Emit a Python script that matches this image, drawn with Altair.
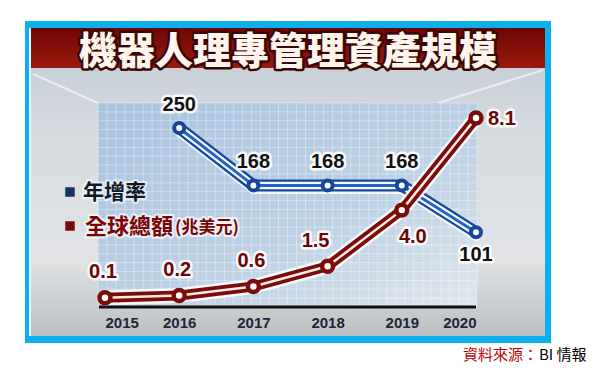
import altair as alt
import pandas as pd

# ---------------- data ----------------
years = [2015, 2016, 2017, 2018, 2019, 2020]
growth_years = [2016, 2017, 2018, 2019, 2020]
growth = [250, 168, 168, 168, 101]
growth_labels = ["250", "168", "168", "168", "101"]
total = [0.1, 0.2, 0.6, 1.5, 4.0, 8.1]
total_labels = ["0.1", "0.2", "0.6", "1.5", "4.0", "8.1"]

title_text = "機器人理專管理資產規模"
legend_growth = "年增率"
legend_total = "全球總額"
legend_unit = "(兆美元)"
source_red = "資料來源："
source_black = "BI 情報"

blue_df = pd.DataFrame({"year": growth_years, "value": growth, "label": growth_labels})
red_df = pd.DataFrame({"year": years, "value": total, "label": total_labels})
one = pd.DataFrame({"k": [0]})

CJK = "Noto Sans CJK TC"
NUM = "Liberation Sans"

# ---------------- scales ----------------
xs = alt.Scale(domain=[2015, 2020], range=[97, 468])
blue_y = alt.Scale(domain=[0, 250], range=[295, 120])
blue_y_sh = alt.Scale(domain=[0, 250], range=[298, 123])
red_y = alt.Scale(domain=[0, 8.1], range=[292, 110])


def box(x, y, x2, y2, **kw):
    return alt.Chart(one).mark_rect(**kw).encode(
        x=alt.value(x), y=alt.value(y), x2=alt.value(x2), y2=alt.value(y2))


def txt(x, y, text, **kw):
    return alt.Chart(one).mark_text(text=text, **kw).encode(x=alt.value(x), y=alt.value(y))


def grad(stops, x1=0, y1=0, x2=0, y2=1):
    return alt.Gradient(gradient="linear", x1=x1, y1=y1, x2=x2, y2=y2,
                        stops=[alt.GradientStop(offset=o, color=c) for o, c in stops])


# ---------------- decoration ----------------
frame = box(17, 13, 543, 335, color="#0cb0ec")
edge = box(21, 20, 23, 328, color="#e6f4fb")
bg = box(23, 20, 537, 328, fill=grad([(0, "#c2c9d2"), (0.35, "#d7dce1"),
                                        (0.75, "#e1e3e5"), (1, "#bcbfc2")]))
streak1 = alt.Chart(one).mark_rule(color="white", strokeWidth=2, opacity=0.6).encode(
    x=alt.value(25), y=alt.value(66), x2=alt.value(90), y2=alt.value(95))
streak2 = alt.Chart(one).mark_rule(color="white", strokeWidth=2, opacity=0.6).encode(
    x=alt.value(430), y=alt.value(95), x2=alt.value(535), y2=alt.value(62))
bar = box(23, 20, 537, 60, fill=grad([(0, "#6e0703"), (1, "#9a1a0e")]))
title_sh = txt(280, 45, title_text, font=CJK, fontSize=38, fontWeight=900,
               fill="#3a0602", stroke="#3a0602", strokeWidth=5, strokeJoin="round",
               align="center", baseline="middle")
title = txt(280, 45, title_text, font=CJK, fontSize=38, fontWeight=900,
            fill="#fff4ee", align="center", baseline="middle")

grid_bg = box(90, 95, 469, 299, fill=grad([(0, "#a8c3df"), (0.6, "#bfd2e5"), (1, "#dfe6ec")],
                                          x1=0, y1=0, x2=1, y2=1))
grid_v = alt.Chart(alt.sequence(0, 43, as_="i")).mark_rule(
    color="white", opacity=0.35, strokeWidth=1).encode(
    x=alt.X("i:Q", scale=alt.Scale(domain=[0, 42], range=[90, 469]), axis=None),
    y=alt.value(95), y2=alt.value(299))
grid_h = alt.Chart(alt.sequence(0, 24, as_="i")).mark_rule(
    color="white", opacity=0.35, strokeWidth=1).encode(
    y=alt.Y("i:Q", scale=alt.Scale(domain=[0, 23], range=[299, 95]), axis=None),
    x=alt.value(90), x2=alt.value(469))
baseline = alt.Chart(one).mark_rule(color="#111111", strokeWidth=3).encode(
    x=alt.value(91), x2=alt.value(468), y=alt.value(299))

# ---------------- year axis ----------------
year_axis = alt.Chart(red_df).mark_point(opacity=0).encode(
    x=alt.X("year:Q", scale=xs, title=None,
            axis=alt.Axis(values=years, format="d", ticks=False, tickSize=0, domain=False,
                          grid=False, labelFont=NUM, labelFontSize=15, labelFontWeight="bold",
                          labelColor="#1b2838", labelPadding=8, labelBaseline="top",
                          zindex=2)),
    y=alt.Y("value:Q", scale=red_y, axis=None))


# ---------------- series ----------------
def line(df, ys, **kw):
    return alt.Chart(df).mark_line(strokeCap="round", strokeJoin="round", **kw).encode(
        x=alt.X("year:Q", scale=xs, axis=None),
        y=alt.Y("value:Q", scale=ys, axis=None))


def pts(df, ys, stroke, size, sw):
    return alt.Chart(df).mark_circle(fill="white", stroke=stroke, strokeWidth=sw,
                                     size=size, opacity=1).encode(
        x=alt.X("year:Q", scale=xs, axis=None),
        y=alt.Y("value:Q", scale=ys, axis=None))


BLUE = "#17479a"
RED = "#7c0c0a"

blue_layers = [
    line(blue_df, blue_y_sh, color="white", strokeWidth=11, opacity=0.8),
    line(blue_df, blue_y, color=BLUE, strokeWidth=12),
    line(blue_df, blue_y, color="#f4f8ff", strokeWidth=7.5),
    line(blue_df, blue_y, color="#2463c6", strokeWidth=3),
]
red_layers = [
    line(red_df, red_y, color="white", strokeWidth=15, opacity=0.85),
    line(red_df, red_y, color=RED, strokeWidth=10),
    line(red_df, red_y, color="#ffeae6", strokeWidth=2.5),
]


def labels(df, ys, sel, dx, dy, fill, align="center"):
    base = alt.Chart(df).transform_filter(
        alt.FieldOneOfPredicate(field="year", oneOf=sel))
    enc = dict(x=alt.X("year:Q", scale=xs, axis=None),
               y=alt.Y("value:Q", scale=ys, axis=None),
               text=alt.Text("label:N"))
    common = dict(font=NUM, fontSize=20, fontWeight="bold", dx=dx, dy=dy,
                  align=align, baseline="middle")
    halo = base.mark_text(fill="white", stroke="white", strokeWidth=5,
                          strokeJoin="round", opacity=0.9, **common).encode(**enc)
    fg = base.mark_text(fill=fill, **common).encode(**enc)
    return [halo, fg]


lab = []
lab += labels(blue_df, blue_y, [2016, 2017, 2018, 2019], 0, -23, "#111111")
lab += labels(blue_df, blue_y, [2020], 0, 23, "#111111")
lab += labels(red_df, red_y, [2015, 2016, 2017], -2, -26, "#6e0505")
lab += labels(red_df, red_y, [2018], -12, -25, "#6e0505")
lab += labels(red_df, red_y, [2019], 11, 27, "#6e0505")
lab += labels(red_df, red_y, [2020], 12, 1, "#6e0505", align="left")

# ---------------- legend ----------------
leg = [
    alt.Chart(one).mark_square(color="#15325e", size=90, opacity=1).encode(
        x=alt.value(62), y=alt.value(184)),
    txt(75, 185, legend_growth, font=CJK, fontSize=21, fontWeight="bold",
        fill="white", stroke="white", strokeWidth=4, strokeJoin="round", opacity=0.6,
        align="left", baseline="middle"),
    txt(75, 185, legend_growth, font=CJK, fontSize=21, fontWeight="bold",
        fill="#101828", align="left", baseline="middle"),
    alt.Chart(one).mark_square(color="#7a0a0a", size=90, opacity=1).encode(
        x=alt.value(62), y=alt.value(218)),
    txt(77, 219, legend_total, font=CJK, fontSize=22, fontWeight="bold",
        fill="white", stroke="white", strokeWidth=4, strokeJoin="round", opacity=0.7,
        align="left", baseline="middle"),
    txt(77, 219, legend_total, font=CJK, fontSize=22, fontWeight="bold",
        fill="#7a0303", align="left", baseline="middle"),
    txt(167, 220, legend_unit, font=CJK, fontSize=17, fontWeight="bold",
        fill="white", stroke="white", strokeWidth=4, strokeJoin="round", opacity=0.7,
        align="left", baseline="middle"),
    txt(167, 220, legend_unit, font=CJK, fontSize=17, fontWeight="bold",
        fill="#7a0303", align="left", baseline="middle"),
]

# ---------------- source ----------------
src = [
    txt(455, 347, source_red, font=CJK, fontSize=15, fill="#c00000",
        align="left", baseline="middle"),
    txt(531, 347, source_black, font=CJK, fontSize=15, fill="#000000",
        align="left", baseline="middle"),
]

layers = ([frame, edge, bg, streak1, streak2, bar, title_sh, title,
           grid_bg, grid_v, grid_h, baseline, year_axis]
          + blue_layers + red_layers
          + [pts(blue_df, blue_y, BLUE, 100, 4), pts(red_df, red_y, RED, 120, 4.5)]
          + lab + leg + src)

chart = alt.layer(*layers).resolve_scale(
    x="independent", y="independent"
).properties(
    width=584, height=299,
    padding={"left": 0, "top": 0, "right": 0, "bottom": 62},
    autosize=alt.AutoSizeParams(type="none"),
    background="white",
).configure_view(stroke=None)

chart.save("out.html", embed_options={"renderer": "svg", "actions": False})
